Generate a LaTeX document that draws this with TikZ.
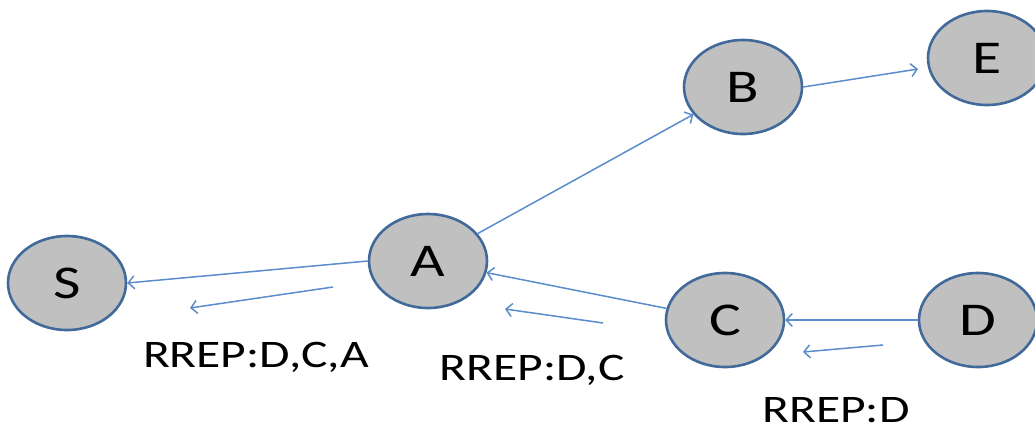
\documentclass[tikz,border=0pt]{standalone}
\usepackage{fontspec}
\setmainfont{Carlito}
\newfontfamily\widefont[FakeStretch=1.27]{Carlito}
\usetikzlibrary{shapes.geometric,arrows.meta}
\definecolor{nodeedge}{HTML}{41699A}
\definecolor{nodefill}{HTML}{C0C0C0}
\definecolor{linkblue}{HTML}{5B8CCB}
\tikzset{
  host/.style={ellipse, draw=nodeedge, fill=nodefill, line width=2.6pt,
    minimum width=118pt, minimum height=94pt, inner sep=0pt,
    font=\widefont\fontsize{47}{50}\selectfont},
  link/.style={draw=linkblue, line width=1.5pt,
    -{Straight Barb[length=6pt,width=13pt,line width=1.5pt]}},
  msg/.style={anchor=base, inner sep=0pt, font=\widefont\fontsize{39}{44}\selectfont}
}
\begin{document}
\begin{tikzpicture}[x=1pt,y=-1pt]
\useasboundingbox (0,0) rectangle (1035,429);
\clip (0,0) rectangle (1035,429);
% hosts
\node[host] (S) at (67,283) {S};
\node[host] (A) at (428,261) {A};
\node[host] (B) at (743,87) {B};
\node[host] (E) at (987,58) {E};
\node[host] (C) at (725,320) {C};
\node[host] (D) at (978,320) {D};
% links
\coordinate (Etip) at (918,69);
\draw[link] (A.west) -- (S.east);
\draw[link] (A) -- (B);
\draw[link] (B.east) -- (Etip);
\draw[link] (C) -- (A);
\draw[link] (D.west) -- (C.east);
% route reply markers
\coordinate (r1s) at (333,287);
\coordinate (r1e) at (190,308);
\coordinate (r2s) at (603,323);
\coordinate (r2e) at (505,309);
\coordinate (r3s) at (883,345);
\coordinate (r3e) at (803,352);
\draw[link] (r1s) -- (r1e);
\draw[link] (r2s) -- (r2e);
\draw[link] (r3s) -- (r3e);
\node[msg] (m1) at (256,367) {RREP:D,C,A};
\node[msg] (m2) at (532,380) {RREP:D,C};
\node[msg] (m3) at (836,422) {RREP:D};
\end{tikzpicture}
\end{document}
